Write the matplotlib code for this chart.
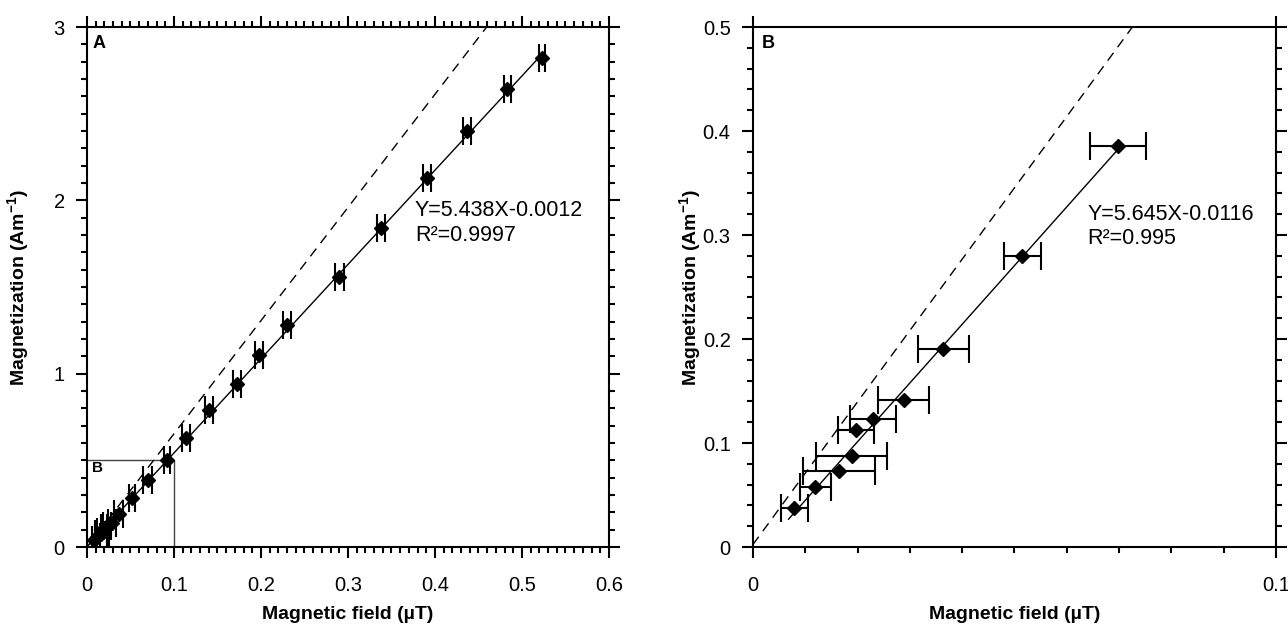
import numpy as np
import matplotlib.pyplot as plt
from matplotlib.ticker import MultipleLocator, FixedLocator, FuncFormatter

plt.rcParams['font.family'] = ['Liberation Sans', 'DejaVu Sans']
plt.rcParams['mathtext.fontset'] = 'custom'
plt.rcParams['mathtext.rm'] = 'Liberation Sans'
plt.rcParams['mathtext.bf'] = 'Liberation Sans:bold'
plt.rcParams['mathtext.it'] = 'Liberation Sans:italic'

# low field points, drawn in both panels
field_low = [0.0079, 0.0119, 0.0164, 0.0189, 0.0197, 0.0229, 0.0288, 0.0364, 0.0515, 0.0698]
mag_low = [0.0378, 0.0574, 0.0734, 0.0875, 0.1125, 0.1231, 0.141, 0.190, 0.280, 0.386]
err_low = [0.0026, 0.0030, 0.0069, 0.0068, 0.0035, 0.0044, 0.0048, 0.0049, 0.0035, 0.0053]

# higher field points, panel A only
field_high = [0.0923, 0.114, 0.140, 0.172, 0.198, 0.230, 0.290, 0.338, 0.391, 0.437, 0.483, 0.523]
mag_high = [0.502, 0.63, 0.79, 0.94, 1.11, 1.28, 1.56, 1.84, 2.13, 2.40, 2.64, 2.82]
err_high = [0.0035, 0.0044, 0.0045, 0.0045, 0.0045, 0.0045, 0.0050, 0.0045, 0.0045, 0.0045, 0.0040, 0.0031]

# linear fits and reference (dashed) lines
fit_a = (5.438, -0.0012)
fit_b = (5.645, -0.0116)
fit_a_range = [0.003, 0.523]
fit_b_range = [0.0068, 0.0698]
ref_a = (6.53, 0.0)
ref_b = (6.86, 0.0024)

field_all = np.array(field_low + field_high)
mag_all = np.array(mag_low + mag_high)
err_all = np.array(err_low + err_high)

fmt = FuncFormatter(lambda v, _: f'{v:g}')


def style_axes(ax):
    for s in ax.spines.values():
        s.set_linewidth(1.5)
    ax.tick_params(which='both', direction='out', top=True, right=True,
                   width=1.5, labelsize=14.5, pad=8)
    ax.tick_params(axis='x', which='major', pad=13)
    ax.tick_params(which='major', length=8)
    ax.tick_params(which='minor', length=4)
    ax.xaxis.set_major_formatter(fmt)
    ax.yaxis.set_major_formatter(fmt)
    ax.set_xlabel('Magnetic field (\u00b5T)', fontsize=14, fontweight='bold', labelpad=8)
    ax.set_ylabel('Magnetization (Am$^{\\mathbf{-1}}$)', fontsize=14, fontweight='bold')


def draw_lines(ax, fit, fit_range, ref, ylim):
    xf = np.array(fit_range)
    ax.plot(xf, fit[0] * xf + fit[1], color='black', lw=1, zorder=2)
    xr = np.array([0, (ylim - ref[1]) / ref[0]])
    ax.plot(xr, ref[0] * xr + ref[1], color='black', lw=1, ls=(0, (7, 5)), zorder=2)


fig = plt.figure(figsize=(12.88, 6.3), dpi=100)

# panel A
ax1 = fig.add_axes([0.0675, 0.1317, 0.4053, 0.8254])
draw_lines(ax1, fit_a, fit_a_range, ref_a, 3)
ax1.errorbar(field_all, mag_all, xerr=err_all, fmt='D', color='black', ms=7.5,
             capsize=10, elinewidth=1.5, capthick=1.5, zorder=3)
ax1.plot([0, 0.1, 0.1], [0.5, 0.5, 0], color='#444444', lw=1, zorder=1)
ax1.text(0.006, 0.455, 'B', fontsize=11, fontweight='bold', va='center')
ax1.set_xlim(0, 0.6)
ax1.set_ylim(0, 3)
ax1.xaxis.set_major_locator(MultipleLocator(0.1))
ax1.xaxis.set_minor_locator(MultipleLocator(0.01))
ax1.yaxis.set_major_locator(MultipleLocator(1))
ax1.yaxis.set_minor_locator(MultipleLocator(0.1))
style_axes(ax1)
ax1.yaxis.set_label_coords(-0.108, 0.5)
ax1.text(0.0115, 0.985, 'A', transform=ax1.transAxes, fontsize=13, fontweight='bold', va='top')
ax1.text(0.377, 2.0, 'Y=5.438X-0.0012\nR\u00b2=0.9997', fontsize=15.5, va='top', ha='left')

# panel B
ax2 = fig.add_axes([0.5846, 0.1317, 0.4061, 0.8254])
draw_lines(ax2, fit_b, fit_b_range, ref_b, 0.5)
ax2.errorbar(field_low, mag_low, xerr=err_low, fmt='D', color='black', ms=7.5,
             capsize=10, elinewidth=1.5, capthick=1.5, zorder=3)
ax2.set_xlim(0, 0.1)
ax2.set_ylim(0, 0.5)
ax2.xaxis.set_major_locator(FixedLocator([0, 0.1]))
ax2.xaxis.set_minor_locator(MultipleLocator(0.01))
ax2.yaxis.set_major_locator(MultipleLocator(0.1))
ax2.yaxis.set_minor_locator(MultipleLocator(0.02))
style_axes(ax2)
ax2.tick_params(which='minor', top=False)
ax2.yaxis.set_label_coords(-0.095, 0.5)
ax2.text(0.0166, 0.985, 'B', transform=ax2.transAxes, fontsize=13, fontweight='bold', va='top')
ax2.text(0.0639, 0.33, 'Y=5.645X-0.0116\nR\u00b2=0.995', fontsize=15.5, va='top', ha='left')

fig.savefig('out.png', dpi=100)
